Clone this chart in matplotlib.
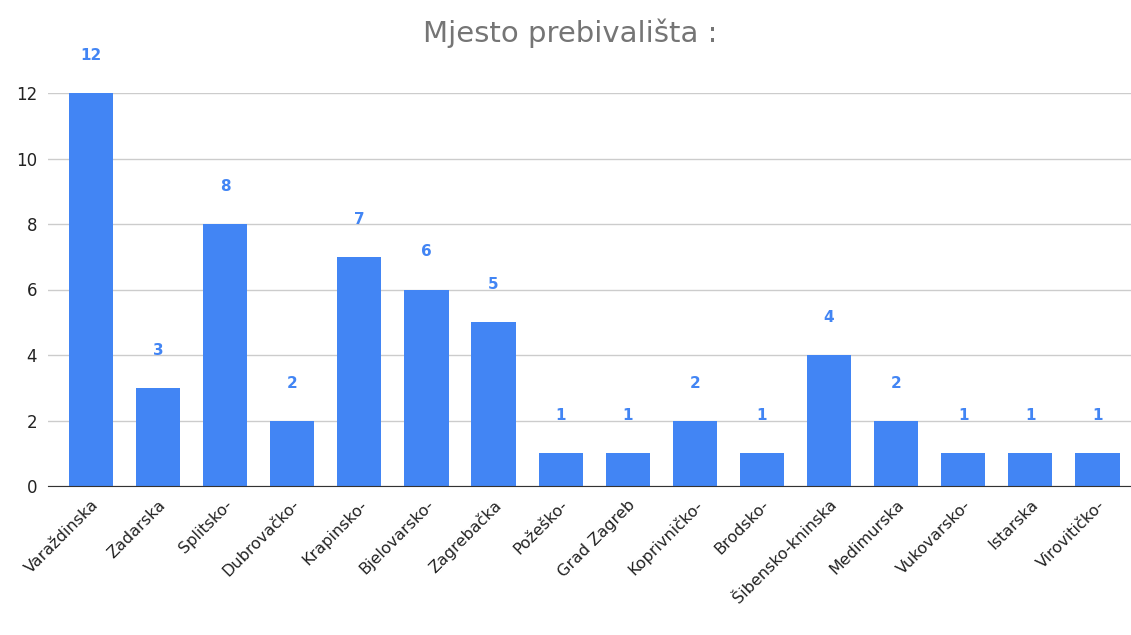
import matplotlib
matplotlib.use('Agg')
import matplotlib.pyplot as plt
import matplotlib.transforms as mtransforms

# zupanije i broj odgovora
zupanije = ['Varaždinska', 'Zadarska', 'Splitsko-', 'Dubrovačko-', 'Krapinsko-',
            'Bjelovarsko-', 'Zagrebačka', 'Požeško-', 'Grad Zagreb', 'Koprivničko-',
            'Brodsko-', 'Šibensko-kninska', 'Medimurska', 'Vukovarsko-', 'Istarska',
            'Virovitičko-']
broj = [12, 3, 8, 2, 7, 6, 5, 1, 1, 2, 1, 4, 2, 1, 1, 1]
y_ticks = [0, 2, 4, 6, 8, 10, 12]

plt.rcParams['font.family'] = ['DejaVu Sans']

fig = plt.figure(figsize=(11.31, 6.35), dpi=100)
ax = fig.add_axes([48/1131, 1-486/635, 1-48/1131, (486-93)/635])

x = range(len(zupanije))
ax.bar(x, broj, width=0.66, color='#4285f4', zorder=3)

for i, v in enumerate(broj):
    ax.annotate(str(v), (i, v), xytext=(0, 27), textcoords='offset points',
                ha='center', va='center', color='#4285f4', fontsize=11,
                fontweight='bold', annotation_clip=False)

ax.set_xlim(-0.64, 15.5)
ax.set_ylim(0, 12)
ax.set_yticks(y_ticks)
ax.set_yticklabels([str(t) for t in y_ticks], fontsize=12, color='#222222')
ax.set_xticks(list(x))
ax.set_xticklabels(zupanije, rotation=45, ha='right', rotation_mode='anchor',
                   fontsize=11.5, color='#222222')
# pomak oznaka malo udesno
pomak = mtransforms.ScaledTranslation(12/100, 0, fig.dpi_scale_trans)
for lbl in ax.get_xticklabels():
    lbl.set_transform(lbl.get_transform() + pomak)
ax.tick_params(axis='both', length=0, pad=8)
ax.tick_params(axis='y', pad=8)
ax.grid(axis='y', color='#cccccc', linewidth=1, zorder=0)
for s in ['top', 'right', 'left']:
    ax.spines[s].set_visible(False)
ax.spines['bottom'].set_color('#333333')
ax.spines['bottom'].set_zorder(4)

fig.text(570/1131, 1-33/635, 'Mjesto prebivališta :', ha='center', va='center',
         fontsize=21, color='#757575')

fig.savefig('out.png', dpi=100)
